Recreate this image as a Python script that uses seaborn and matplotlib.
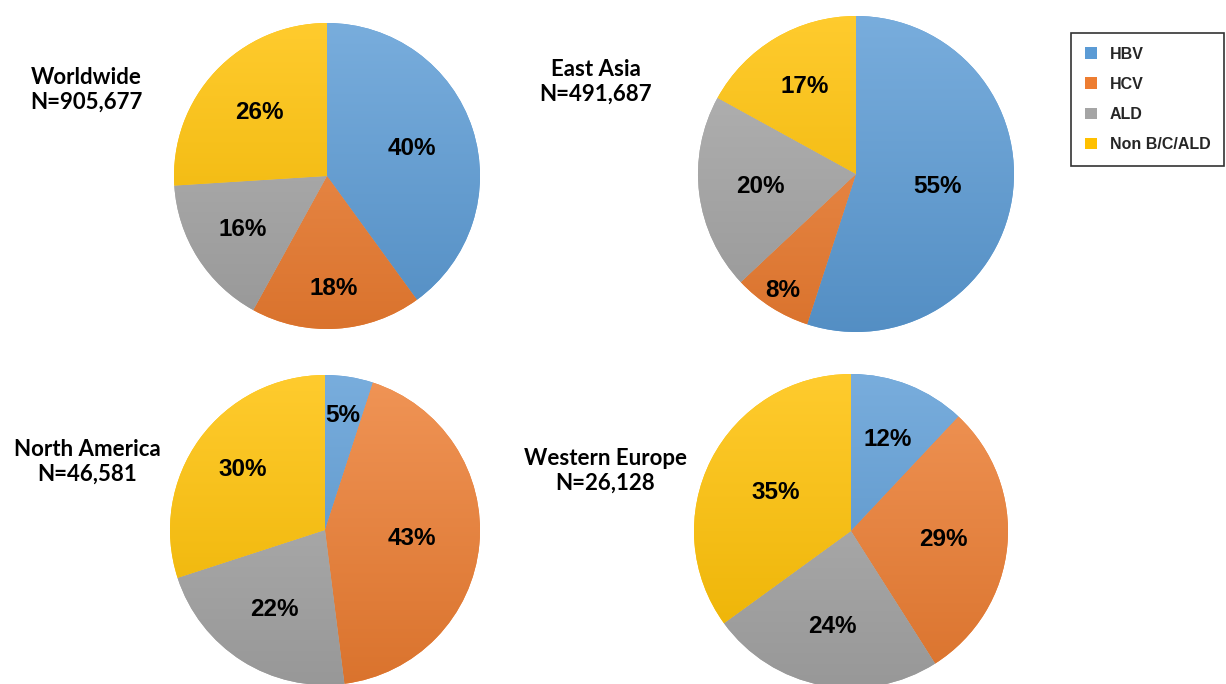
import numpy as np
import matplotlib.pyplot as plt
import seaborn as sns
from matplotlib.colors import LinearSegmentedColormap, to_rgb
from matplotlib.patches import Patch

sns.set_theme(style="white")

# data
causes = ["HBV", "HCV", "ALD", "Non B/C/ALD"]
regions = ["Worldwide", "East Asia", "North America", "Western Europe"]
n_cases = ["905,677", "491,687", "46,581", "26,128"]
worldwide = [40, 18, 16, 26]
east_asia = [55, 8, 20, 17]
north_america = [5, 43, 22, 30]
western_europe = [12, 29, 24, 35]
shares = [worldwide, east_asia, north_america, western_europe]

colors = ["#5b9bd5", "#ed7d31", "#a5a5a5", "#ffc000"]

# layout (pixel coords, y up)
H = 684
pie_pos = [(327, H - 176, 153), (856, H - 174, 158), (325, H - 530, 155), (851, H - 531, 157)]
title_pos = [(86, H - 90), (596, H - 82), (87, H - 462), (605, H - 471)]
label_dist = [[0.58, 0.74, 0.65, 0.61],
              [0.52, 0.87, 0.61, 0.64],
              [0.75, 0.56, 0.61, 0.66],
              [0.63, 0.59, 0.62, 0.54]]


def shade(c, f):
    c = np.array(to_rgb(c))
    if f >= 0:
        return tuple(c + (1 - c) * f)
    return tuple(c * (1 + f))


fig = plt.figure(figsize=(12.26, 6.84), dpi=100)
ax = fig.add_axes([0, 0, 1, 1])
grad = np.linspace(0, 1, 256).reshape(-1, 1)

for i, vals in enumerate(shares):
    cx, cy, r = pie_pos[i]
    wedges = ax.pie(vals, colors=colors, startangle=90, counterclock=False,
                    center=(cx, cy), radius=r, frame=True,
                    wedgeprops=dict(linewidth=0))[0]
    for j, w in enumerate(wedges):
        cmap = LinearSegmentedColormap.from_list(
            "g", [shade(colors[j], 0.18), shade(colors[j], -0.08)])
        im = ax.imshow(grad, cmap=cmap, extent=(cx - r, cx + r, cy - r, cy + r),
                       origin="upper", aspect="auto", zorder=2)
        im.set_clip_path(w)
        th = np.deg2rad((w.theta1 + w.theta2) / 2)
        d = label_dist[i][j] * r
        ax.text(cx + d * np.cos(th), cy + d * np.sin(th), f"{vals[j]}%",
                ha="center", va="center", fontsize=17.5, fontweight="bold",
                family="Liberation Sans", color="black", zorder=5)
    tx, ty = title_pos[i]
    ax.text(tx, ty, f"{regions[i]}\nN={n_cases[i]}", ha="center", va="center",
            fontsize=16, fontweight="bold", family="Lato", linespacing=1.2,
            color="black", zorder=5)

ax.set_xlim(0, 1226)
ax.set_ylim(0, H)
ax.set_aspect("equal")
ax.axis("off")

handles = [Patch(facecolor=c, edgecolor="none") for c in colors]
leg = fig.legend(handles, causes, loc="upper right",
                 bbox_to_anchor=(1224 / 1226, 1 - 33 / H),
                 frameon=True, fancybox=False, edgecolor="black",
                 prop=dict(family="Liberation Sans", weight="bold", size=11.5),
                 handlelength=0.75, handleheight=0.75, handletextpad=0.8,
                 labelspacing=0.95, borderpad=0.85, borderaxespad=0)
leg.get_frame().set_linewidth(1.2)

fig.savefig("out.png", dpi=100, facecolor="white")
